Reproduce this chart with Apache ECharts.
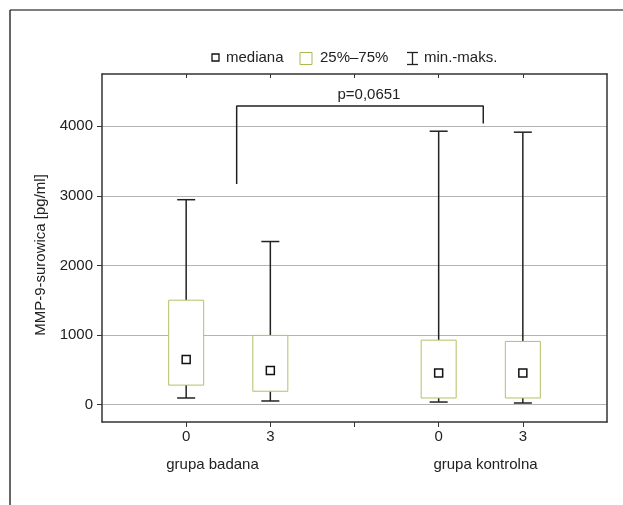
<!DOCTYPE html>
<html>
<head>
<meta charset="utf-8">
<script src="https://cdn.jsdelivr.net/npm/echarts@6/dist/echarts.min.js"></script>
<style>html,body{margin:0;padding:0;background:#fff;}#c{width:623px;height:505px;}</style>
</head>
<body>
<div id="c"></div>
<script>
const groups = ['grupa badana', 'grupa kontrolna'];
const timepoints = ['0', '3'];
const minVals = [95, 52, 37, 23];
const q1Vals = [280, 192, 95, 95];
const medianVals = [648, 490, 455, 455];
const q3Vals = [1500, 994, 926, 908];
const maxVals = [2944, 2343, 3928, 3914];
const yTicks = [0, 1000, 2000, 3000, 4000];
const yTitle = 'MMP-9-surowica [pg/ml]';
const pLabel = 'p=0,0651';
const bracketX = [1.6, 4.53];
const bracketY = [3170, 4290, 4040];
const legendTexts = ['mediana', '25%\u201375%', 'min.-maks.'];

const FONT = 'Liberation Sans';
const positions = [];
const tickLabels = {};
groups.forEach((g, gi) => timepoints.forEach((t, ti) => {
  const p = gi * (timepoints.length + 1) + ti + 1;
  positions.push(p);
  tickLabels[p] = t;
}));
const boxData = positions.map((p, i) => [p, minVals[i], q1Vals[i], medianVals[i], q3Vals[i], maxVals[i]]);

const chart = echarts.init(document.getElementById('c'));
const axisLine = { show: true, onZero: false, lineStyle: { color: '#333', width: 1.5 } };
const option = {
  animation: false,
  textStyle: { fontFamily: FONT },
  grid: { left: 102, right: 16, top: 74, bottom: 83 },
  xAxis: [{
    type: 'value', min: 0, max: 6, interval: 1,
    axisLine: axisLine,
    axisTick: { show: true, length: 5, lineStyle: { color: '#333' }, customValues: [1, 2, 3, 4, 5] },
    axisLabel: { customValues: positions, formatter: v => tickLabels[v] || '', fontSize: 15, color: '#222', margin: 7, fontFamily: FONT },
    splitLine: { show: false }
  }, {
    type: 'value', min: 0, max: 6, interval: 1, position: 'top',
    axisLine: axisLine,
    axisTick: { show: true, inside: true, length: 4, lineStyle: { color: '#333' }, customValues: [1, 2, 3, 4, 5] },
    axisLabel: { show: false }, splitLine: { show: false }
  }],
  yAxis: [{
    type: 'value', min: -250, max: 4750,
    name: yTitle, nameLocation: 'middle', nameGap: 44,
    nameTextStyle: { fontSize: 15, color: '#222', fontFamily: FONT, padding: [0, 0, 0, -14] },
    axisLine: axisLine,
    axisTick: { show: true, length: 5, lineStyle: { color: '#333' }, customValues: yTicks },
    axisLabel: { customValues: yTicks, formatter: v => String(v), fontSize: 15, color: '#222', margin: 9, fontFamily: FONT },
    splitLine: { show: true, lineStyle: { color: '#b4b4b4', width: 1.2 } }
  }, {
    type: 'value', min: -250, max: 4750, position: 'right',
    axisLine: axisLine,
    axisTick: { show: false }, axisLabel: { show: false }, splitLine: { show: false }
  }],
  series: [{
    type: 'custom',
    data: boxData,
    encode: { x: 0, y: [1, 2, 3, 4, 5] },
    renderItem: function (params, api) {
      const x = api.value(0);
      const pMin = api.coord([x, api.value(1)]);
      const pQ1 = api.coord([x, api.value(2)]);
      const pMed = api.coord([x, api.value(3)]);
      const pQ3 = api.coord([x, api.value(4)]);
      const pMax = api.coord([x, api.value(5)]);
      const bw = 35, cw = 18, ms = 8;
      const line = { stroke: '#222', lineWidth: 1.5 };
      return {
        type: 'group',
        children: [
          { type: 'line', shape: { x1: pMax[0], y1: pMax[1], x2: pQ3[0], y2: pQ3[1] }, style: line },
          { type: 'line', shape: { x1: pMax[0] - cw / 2, y1: pMax[1], x2: pMax[0] + cw / 2, y2: pMax[1] }, style: line },
          { type: 'line', shape: { x1: pMin[0], y1: pMin[1], x2: pQ1[0], y2: pQ1[1] }, style: line },
          { type: 'line', shape: { x1: pMin[0] - cw / 2, y1: pMin[1], x2: pMin[0] + cw / 2, y2: pMin[1] }, style: line },
          { type: 'rect', shape: { x: pQ3[0] - bw / 2, y: pQ3[1], width: bw, height: pQ1[1] - pQ3[1] },
            style: { fill: '#fff', stroke: '#b3c164', lineWidth: 1 } },
          { type: 'rect', shape: { x: pMed[0] - ms / 2, y: pMed[1] - ms / 2, width: ms, height: ms },
            style: { fill: '#fff', stroke: '#111', lineWidth: 1.5 } }
        ]
      };
    },
    z: 3
  }, {
    type: 'line',
    data: [[bracketX[0], bracketY[0]], [bracketX[0], bracketY[1]], [bracketX[1], bracketY[1]], [bracketX[1], bracketY[2]]],
    symbol: 'none',
    lineStyle: { color: '#222', width: 1.5 },
    z: 4
  }, {
    type: 'custom',
    data: [[(bracketX[0] + bracketX[1]) / 2, bracketY[1]]],
    renderItem: function (params, api) {
      const p = api.coord([api.value(0), api.value(1)]);
      return { type: 'text', x: p[0] + 9, y: p[1] - 4,
        style: { text: pLabel, fill: '#222', font: '15px ' + FONT, align: 'center', verticalAlign: 'bottom' } };
    },
    z: 5
  }],
  graphic: [
    { type: 'line', shape: { x1: 10, y1: 10, x2: 623, y2: 10 }, style: { stroke: '#555', lineWidth: 1.5 } },
    { type: 'line', shape: { x1: 10, y1: 10, x2: 10, y2: 505 }, style: { stroke: '#333', lineWidth: 1.5 } },
    // legend
    { type: 'rect', shape: { x: 212, y: 54, width: 7, height: 7 }, style: { fill: '#fff', stroke: '#111', lineWidth: 1.3 } },
    { type: 'text', x: 226, y: 58, style: { text: legendTexts[0], font: '15px ' + FONT, fill: '#222', verticalAlign: 'middle' } },
    { type: 'rect', shape: { x: 300, y: 52.5, width: 12, height: 12 }, style: { fill: '#fff', stroke: '#a9ba55', lineWidth: 1 } },
    { type: 'text', x: 320, y: 58, style: { text: legendTexts[1], font: '15px ' + FONT, fill: '#222', verticalAlign: 'middle' } },
    { type: 'line', shape: { x1: 412.5, y1: 52.5, x2: 412.5, y2: 64.5 }, style: { stroke: '#222', lineWidth: 1.3 } },
    { type: 'line', shape: { x1: 407, y1: 52.5, x2: 418, y2: 52.5 }, style: { stroke: '#222', lineWidth: 1.3 } },
    { type: 'line', shape: { x1: 407, y1: 64.5, x2: 418, y2: 64.5 }, style: { stroke: '#222', lineWidth: 1.3 } },
    { type: 'text', x: 424, y: 58, style: { text: legendTexts[2], font: '15px ' + FONT, fill: '#222', verticalAlign: 'middle' } },
    // group labels
    { type: 'text', x: 212.5, y: 465, style: { text: groups[0], font: '15px ' + FONT, fill: '#222', align: 'center', verticalAlign: 'middle' } },
    { type: 'text', x: 485.5, y: 465, style: { text: groups[1], font: '15px ' + FONT, fill: '#222', align: 'center', verticalAlign: 'middle' } }
  ]
};
chart.setOption(option);
</script>
</body>
</html>
